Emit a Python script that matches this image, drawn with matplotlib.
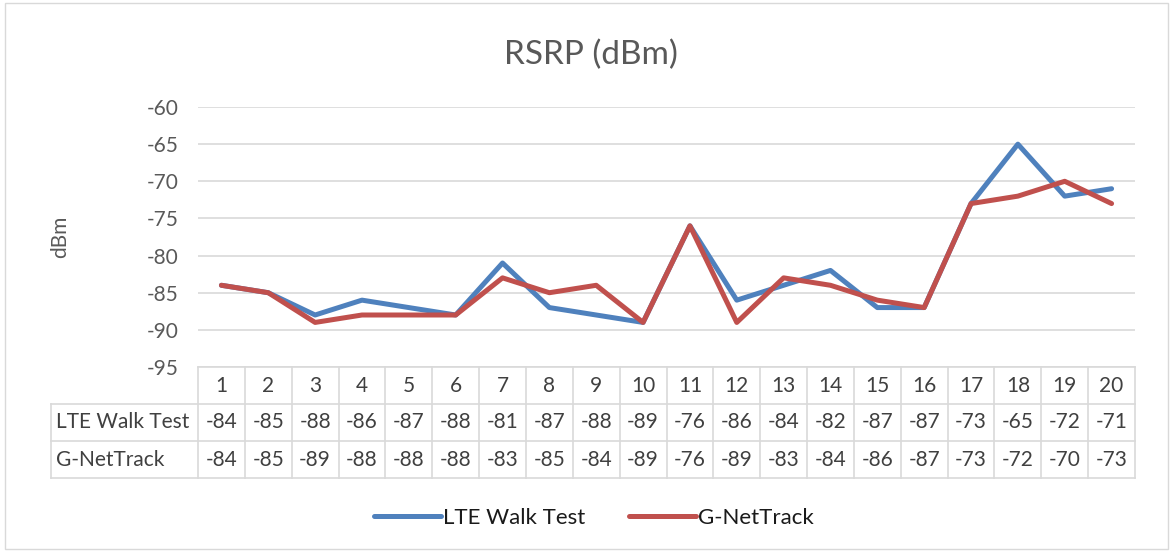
import matplotlib.pyplot as plt
from matplotlib.lines import Line2D
from matplotlib.patches import Rectangle
from matplotlib.ticker import FuncFormatter

plt.rcParams['font.family'] = ['Lato', 'DejaVu Sans']
plt.rcParams['axes.unicode_minus'] = False

points = [str(i) for i in range(1, 21)]
lte = [-84, -85, -88, -86, -87, -88, -81, -87, -88, -89,
       -76, -86, -84, -82, -87, -87, -73, -65, -72, -71]
gnet = [-84, -85, -89, -88, -88, -88, -83, -85, -84, -89,
        -76, -89, -83, -84, -86, -87, -73, -72, -70, -73]
series_names = ["LTE Walk Test", "G-NetTrack"]
colors = ["#4F81BD", "#C0504D"]

W, H = 1170, 552
fig = plt.figure(figsize=(W / 100, H / 100), dpi=100)
fig.patches.append(Rectangle((5 / W, 3 / H), 1163 / W, 546 / H, transform=fig.transFigure,
                             fill=False, edgecolor="#D9D9D9", lw=1))

left, right, top, bottom = 198, 1135, 107, 367
ax = fig.add_axes([left / W, 1 - bottom / H, (right - left) / W, (bottom - top) / H])
ax.set_xlim(0, 20)
ax.set_ylim(-95, -60)
ax.set_yticks(range(-95, -59, 5))
ax.yaxis.set_major_formatter(FuncFormatter(lambda v, p: "%d" % v))
ax.yaxis.grid(True, color="#D9D9D9", lw=1.2)
ax.set_axisbelow(True)
for s in ax.spines.values():
    s.set_visible(False)
ax.tick_params(axis="y", length=0, labelsize=15, labelcolor="#595959", pad=14)
ax.set_xticks([])

xs = [i + 0.5 for i in range(20)]
for vals, c in zip([lte, gnet], colors):
    ax.plot(xs, vals, color=c, lw=3.6, solid_capstyle="round", solid_joinstyle="round")

fig.text(591 / W, 1 - 55 / H, "RSRP (dBm)", fontsize=24, color="#595959",
         ha="center", va="center")
fig.text(60 / W, 1 - 237 / H, "dBm", rotation=90, fontsize=15, color="#595959",
         ha="center", va="center")

# data table below the plot
gc = "#D9D9D9"
row_tops = [367, 404, 441, 478]
tleft = 51
colw = (right - left) / 20
def fy(y):
    return 1 - y / H
def fx(x):
    return x / W
fl = dict(transform=fig.transFigure, color=gc, lw=1.2)
fig.add_artist(Line2D([fx(left), fx(right)], [fy(367), fy(367)], **fl))
for y in row_tops[1:]:
    fig.add_artist(Line2D([fx(tleft), fx(right)], [fy(y), fy(y)], **fl))
for i in range(21):
    x = left + i * colw
    fig.add_artist(Line2D([fx(x), fx(x)], [fy(367), fy(478)], **fl))
fig.add_artist(Line2D([fx(tleft), fx(tleft)], [fy(404), fy(478)], **fl))

tk = dict(fontsize=15, color="#404040", ha="center", va="center")
for i, p in enumerate(points):
    cx = fx(left + (i + 0.5) * colw)
    fig.text(cx, fy(385.5), p, **tk)
    fig.text(cx, fy(422.5), str(lte[i]), **tk)
    fig.text(cx, fy(459.5), str(gnet[i]), **tk)
fig.text(fx(tleft + 5), fy(422.5), series_names[0], fontsize=15, color="#404040", va="center")
fig.text(fx(tleft + 5), fy(459.5), series_names[1], fontsize=15, color="#404040", va="center")

handles = [Line2D([], [], color=c, lw=3.6, solid_capstyle="round") for c in colors]
fig.legend(handles, series_names, loc="center", bbox_to_anchor=(594 / W, 1 - 518 / H),
           ncol=2, frameon=False, fontsize=16, handlelength=3.0, handletextpad=0.1,
           columnspacing=2.0, labelcolor="#1A1A1A")

fig.savefig("out.png", dpi=100)
